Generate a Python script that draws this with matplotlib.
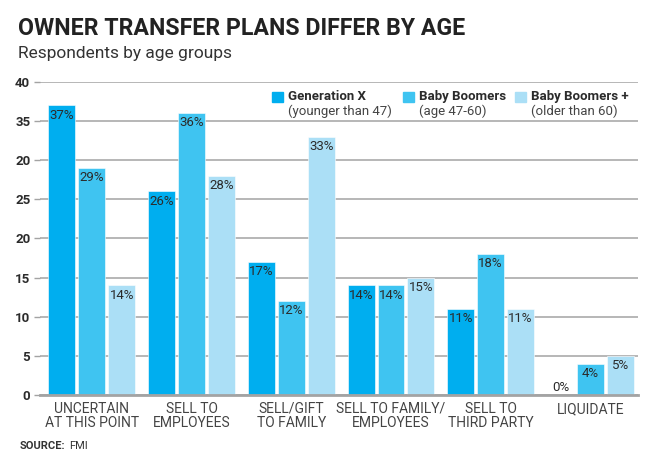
import matplotlib.pyplot as plt
import numpy as np
from matplotlib.patches import Rectangle

plt.rcParams['font.family'] = ['Roboto', 'DejaVu Sans']

# datos
categories = ['UNCERTAIN\nAT THIS POINT', 'SELL TO\nEMPLOYEES', 'SELL/GIFT\nTO FAMILY',
              'SELL TO FAMILY/\nEMPLOYEES', 'SELL TO\nTHIRD PARTY', 'LIQUIDATE']
gen_x = [37, 26, 17, 14, 11, 0]
boomers = [29, 36, 12, 14, 18, 4]
boomers_plus = [14, 28, 33, 15, 11, 5]
series_names = ['Generation X', 'Baby Boomers', 'Baby Boomers +']
series_notes = ['(younger than 47)', '(age 47-60)', '(older than 60)']
y_ticks = [0, 5, 10, 15, 20, 25, 30, 35, 40]
y_tick_labels = ['0', '5', '10', '15', '20', '25', '20', '35', '40']  # tal cual en el original

colors = ['#00aeef', '#3fc4f1', '#abdff6']
text_dark = '#2b2b2b'
grid_gray = '#a3a3a3'

fig = plt.figure(figsize=(6.67, 4.68), dpi=100)
ax = fig.add_axes([0.060, 0.156, 0.897, 0.669])

x = np.arange(len(categories))
step = 0.30
width = 0.27
for i, vals in enumerate([gen_x, boomers, boomers_plus]):
    pos = x + (i - 1) * step
    ax.bar(pos, vals, width, color=colors[i], edgecolor='white', linewidth=0.4, zorder=3)
    for p, v in zip(pos, vals):
        if v > 0:
            ax.text(p, v - 0.4, f'{v}%', ha='center', va='top', fontsize=9.5,
                    color=text_dark, zorder=4)
        else:
            ax.text(p, 0.15, f'{v}%', ha='center', va='bottom', fontsize=9.5,
                    color=text_dark, zorder=4)

ax.set_xlim(-0.52, 5.48)
ax.set_ylim(0, 40)
ax.set_yticks(y_ticks)
ax.set_yticklabels(y_tick_labels, fontsize=9.5, fontweight='bold', color=text_dark)
ax.set_xticks(x)
ax.set_xticklabels(categories, fontsize=10, color='#444444', linespacing=1.0)
ax.tick_params(axis='x', length=0, pad=5)
ax.tick_params(axis='y', length=4, width=1, color=grid_gray, pad=3)
ax.yaxis.grid(True, color=grid_gray, linewidth=1.1, zorder=0)
for s in ['top', 'right', 'left']:
    ax.spines[s].set_visible(False)
ax.spines['bottom'].set_color(grid_gray)
ax.spines['bottom'].set_linewidth(2)
ax.spines['bottom'].set_zorder(5)

# leyenda manual
leg_x = [0.388, 0.607, 0.794]
for i in range(3):
    lx = leg_x[i]
    ax.add_patch(Rectangle((lx, 0.937), 0.018, 0.032, transform=ax.transAxes,
                           color=colors[i], clip_on=False, zorder=6))
    ax.text(lx + 0.026, 0.953, series_names[i], transform=ax.transAxes, fontsize=9.5,
            fontweight='bold', color=text_dark, va='center', ha='left', zorder=6)
    ax.text(lx + 0.026, 0.906, series_notes[i], transform=ax.transAxes, fontsize=9.5,
            color='#444444', va='center', ha='left', zorder=6)

# titulos
fig.text(0.027, 0.925, 'OWNER TRANSFER PLANS DIFFER BY AGE', fontsize=16.7, fontweight='bold',
         color='#222222')
fig.text(0.027, 0.876, 'Respondents by age groups', fontsize=12.5, color='#333333')
src = fig.text(0.030, 0.040, 'SOURCE:', fontsize=8, fontweight='bold', color='#333333')
ax.annotate('FMI', xy=(1, 0), xycoords=src, xytext=(2.5, 0), textcoords='offset points',
            fontsize=8, color='#333333', va='bottom', ha='left')

fig.savefig('out.png', dpi=100)
